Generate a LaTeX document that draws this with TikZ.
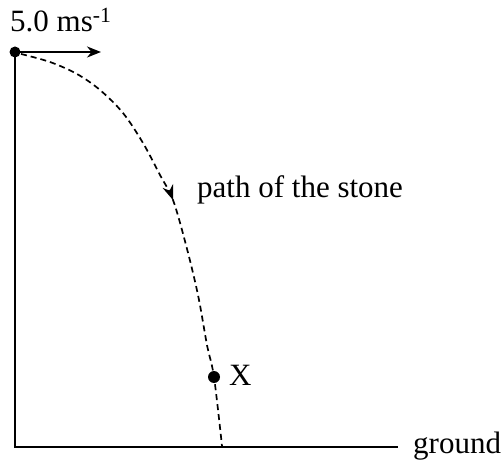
\documentclass[tikz,border=0pt]{standalone}
\usepackage{fontspec}
\setmainfont{Liberation Serif}
\usetikzlibrary{arrows.meta,decorations.markings}
\begin{document}
\begin{tikzpicture}[x=1pt,y=-1pt,
  lbl/.style={anchor=base west,inner sep=0pt,font=\fontsize{31}{36}\selectfont},
  dot/.style={circle,fill=black,inner sep=0pt},
  axis/.style={line width=2pt},
  traj/.style={line width=1.7pt,dash pattern=on 6pt off 4pt}]
\useasboundingbox (0,0) rectangle (504,468);
\node[dot,minimum size=11pt] (top) at (15,52) {};
\node[dot,minimum size=12pt] (X) at (214,377) {};
\coordinate (corner) at (15,447);
\coordinate (gend) at (398,447);
\coordinate (vend) at (101,52);
\draw[axis] (top.center) -- (corner) -- (gend);
\draw[axis,-{Stealth[length=14pt,width=11pt]}] (top.center) -- (vend);
\draw[traj,postaction={decorate},decoration={markings,mark=at position 0.468 with {\arrow{Stealth[length=15pt,width=11pt]}}}]
  plot[smooth,tension=0.55] coordinates {(21,54) (50,62) (77,74) (100,90) (123,113) (143,143) (160,175) (173,200) (186,245) (198,295) (207,345) (214,377) (222,446)};
\node[lbl] (v) at (10,32) {5.0 ms\textsuperscript{-1}};
\node[lbl] (p) at (197,198) {path of the stone};
\node[lbl] (xl) at (229,385) {X};
\node[lbl] (g) at (413,453) {ground};
\end{tikzpicture}
\end{document}
